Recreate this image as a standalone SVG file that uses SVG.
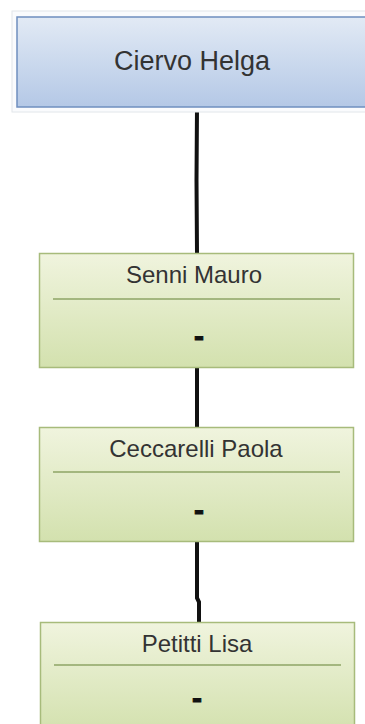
<svg xmlns="http://www.w3.org/2000/svg" width="365" height="724" viewBox="0 0 365 724">
<defs>
<linearGradient id="gBlue" x1="0" y1="0" x2="0" y2="1">
<stop offset="0" stop-color="#e2eaf5"/>
<stop offset="1" stop-color="#b4c8e6"/>
</linearGradient>
<linearGradient id="gGreen" x1="0" y1="0" x2="0" y2="1">
<stop offset="0" stop-color="#f0f4de"/>
<stop offset="1" stop-color="#d3e1ae"/>
</linearGradient>
</defs>
<style>
.t{font-family:"Liberation Sans",Arial,sans-serif;fill:#333;text-anchor:middle}
.d{font-family:"Liberation Sans",Arial,sans-serif;fill:#111;stroke:#111;stroke-width:1;text-anchor:middle;font-weight:bold;font-size:30px}
.g{fill:url(#gGreen);stroke:#a7bb7b;stroke-width:1.5}
.sep{stroke:#8ea566;stroke-width:1.5}
.c{stroke:#111;stroke-width:4;fill:none}
</style>
<rect width="365" height="724" fill="#ffffff"/>
<g id="connectors">
<path class="c" d="M197 108 L196.5 180 L197 253"/>
<path class="c" d="M197 367 L197 427"/>
<path class="c" d="M197 541 L197 598 L199 602 L199 622"/>
</g>
<g id="n1">
<rect x="12" y="11" width="360" height="101" fill="#fafbfd" stroke="#e2e6ea" stroke-width="1"/>
<rect x="17" y="17" width="355" height="90" fill="url(#gBlue)" stroke="#6f8fbf" stroke-width="1.5"/>
<text class="t" x="192" y="70" font-size="27">Ciervo Helga</text>
</g>
<g id="n2">
<rect class="g" x="39.5" y="253.5" width="314" height="114"/>
<line class="sep" x1="53" y1="299" x2="340" y2="299"/>
<text class="t" x="194" y="283" font-size="24">Senni Mauro</text>
<text class="d" x="199" y="346">-</text>
</g>
<g id="n3">
<rect class="g" x="39.5" y="427.5" width="314" height="114"/>
<line class="sep" x1="53" y1="472" x2="340" y2="472"/>
<text class="t" x="196" y="457" font-size="24">Ceccarelli Paola</text>
<text class="d" x="199" y="520">-</text>
</g>
<g id="n4">
<rect class="g" x="40.5" y="622.5" width="314" height="110"/>
<line class="sep" x1="54" y1="665" x2="341" y2="665"/>
<text class="t" x="197" y="652" font-size="24">Petitti Lisa</text>
<text class="d" x="197" y="708">-</text>
</g>
</svg>
